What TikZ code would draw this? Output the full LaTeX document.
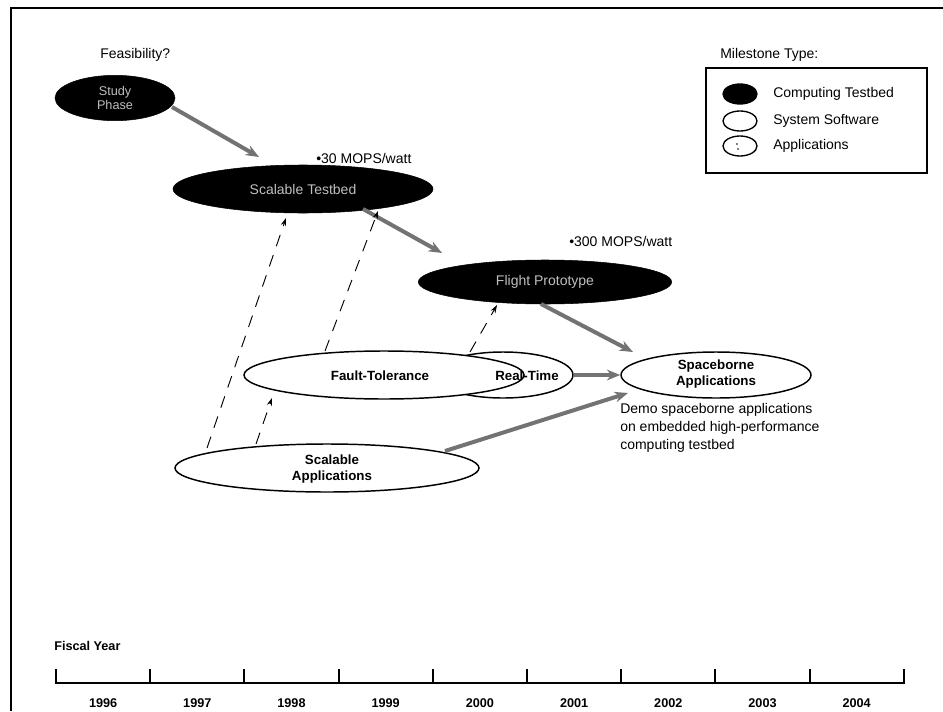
\documentclass[tikz,border=0pt]{standalone}
\usepackage{fontspec}
\setmainfont{Liberation Sans}
\usetikzlibrary{shapes.geometric,arrows.meta}
\begin{document}
\begin{tikzpicture}[x=0.75pt,y=-0.75pt,
  dark/.style={ellipse,fill=black,draw=black,inner sep=0pt,text=white!75!black,align=center},
  soft/.style={ellipse,fill=white,draw=black,line width=1.1pt,inner sep=0pt},
  blab/.style={inner sep=0pt,font=\bfseries\fontsize{10}{11.5}\selectfont,align=center},
  lbl/.style={inner sep=0pt,font=\fontsize{10.5}{13.5}\selectfont,align=left},
  yr/.style={inner sep=0pt,font=\bfseries\fontsize{9.5}{11}\selectfont},
  garrow/.style={draw=black!55,line width=3pt,-{Stealth[length=10pt,width=8pt]}},
  dasharrow/.style={draw=black,line width=0.7pt,dash pattern=on 9pt off 7pt,-{Stealth[length=6pt,width=4pt]}},
  icon/.style={ellipse,draw=black,line width=1pt,minimum width=25.5pt,minimum height=15pt,inner sep=0pt}
]
\useasboundingbox (0,0) rectangle (943,711);
% frame
\draw[line width=1pt] (11,711) -- (11,8) -- (943,8);

% texts on top
\node[lbl,anchor=west] (feas) at (100,55) {Feasibility?};
\node[lbl,anchor=west] (mst) at (720,55) {Milestone Type:};

% computing testbed ellipses
\node[dark,minimum width=90pt,minimum height=34pt,font=\fontsize{9.5}{10.5}\selectfont] (study) at (115,98) {Study\\Phase};
\node[dark,minimum width=195pt,minimum height=36pt,font=\fontsize{10.5}{12}\selectfont] (tb1) at (303,189) {Scalable Testbed};
\node[dark,minimum width=190pt,minimum height=33pt,font=\fontsize{10.5}{12}\selectfont] (tb2) at (545,282) {Flight Prototype};

\node[lbl,anchor=west] (m30) at (316,158) {•30 MOPS/watt};
\node[lbl,anchor=west] (m300) at (569,241) {•300 MOPS/watt};

% software / applications ellipses
\node[soft,minimum width=105pt,minimum height=34.5pt] (rt) at (503,375) {};
\node[soft,minimum width=210pt,minimum height=36pt] (ft) at (384,375) {};
\node[blab] (ftl) at (380,376) {Fault-Tolerance};
\node[blab] (rtl) at (527,376) {Real-Time};
\node[soft,minimum width=142.5pt,minimum height=34.5pt] (sb) at (716,375) {};
\node[blab] (sbl) at (716,374) {Spaceborne\\Applications};
\node[soft,minimum width=228pt,minimum height=36pt] (sa) at (327,468) {};
\node[blab] (sal) at (332,469) {Scalable\\Applications};

\node[lbl,anchor=north west] (demo) at (620,403) {Demo spaceborne applications\\on embedded high-performance\\computing testbed};

% connector end points
\coordinate (a1s) at (172,107);
\coordinate (a1e) at (259,157);
\coordinate (a2s) at (363,209);
\coordinate (a2e) at (442,253);
\coordinate (a3s) at (541,304);
\coordinate (a3e) at (633,352);
\coordinate (a4s) at (445,451);
\coordinate (a4e) at (628,393);

% grey arrows
\draw[garrow] (a1s) -- (a1e);
\draw[garrow] (a2s) -- (a2e);
\draw[garrow] (a3s) -- (a3e);
\draw[garrow] (rt.east) -- (sb.west);
\draw[garrow] (a4s) -- (a4e);

% dashed arrows
\coordinate (d1s) at (207,448);
\coordinate (d1e) at (286,218);
\coordinate (d2s) at (256,444);
\coordinate (d2e) at (272,398);
\coordinate (d3s) at (325,351);
\coordinate (d3e) at (378,211);
\coordinate (d4s) at (470,352);
\coordinate (d4e) at (497,305);
\draw[dasharrow] (d1s) -- (d1e);
\draw[dasharrow] (d2s) -- (d2e);
\draw[dasharrow] (d3s) -- (d3e);
\draw[dasharrow] (d4s) -- (d4e);

% legend
\draw[line width=1pt] (706,68) rectangle (927,173);
\node[icon,fill=black] (i1) at (740,94) {};
\node[icon,fill=white] (i2) at (740,121) {};
\node[icon,fill=white] (i3) at (740,146) {};
\fill (737,144) circle (0.6pt) (738,149) circle (0.6pt);
\node[lbl,anchor=west] (t1) at (773,94) {Computing Testbed};
\node[lbl,anchor=west] (t2) at (773,121) {System Software};
\node[lbl,anchor=west] (t3) at (773,146) {Applications};

% time axis
\node[yr,anchor=west] (fy) at (54,646) {Fiscal Year};
\draw[line width=1.6pt] (56,683) -- (904,683);
\foreach \k in {0,...,9} {
  \draw[line width=1.6pt] ({56+94.2*\k},684) -- ({56+94.2*\k},669);
}
\foreach \y [count=\i from 0] in {1996,1997,1998,1999,2000,2001,2002,2003,2004} {
  \node[yr] (y\y) at ({56+94.2*\i+47.1},703) {\y};
}
\end{tikzpicture}
\end{document}
